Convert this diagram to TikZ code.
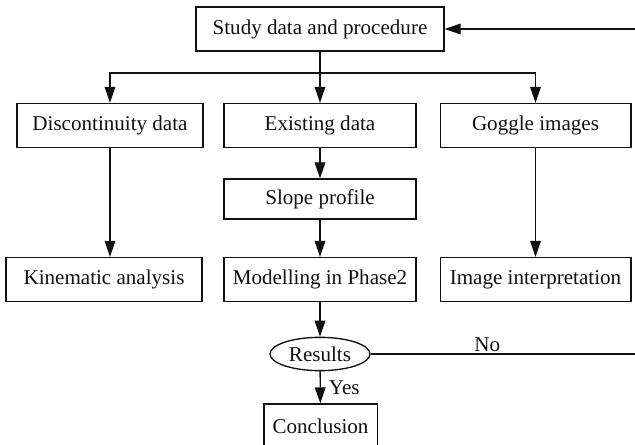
\documentclass[tikz,border=0pt]{standalone}
\usepackage{fontspec}
\setmainfont{Liberation Serif}
\usepackage{tikz}
\usetikzlibrary{arrows.meta,calc,positioning,shapes.geometric}
\definecolor{Ink}{HTML}{111111}
\tikzset{
  fcBox/.style={rectangle,draw=Ink,line width=1pt,fill=white,text=Ink,
    minimum height=33pt,align=center,inner sep=0pt,font=\fontsize{15.8}{18}\selectfont},
  fcDecision/.style={ellipse,draw=Ink,line width=1pt,fill=white,text=Ink,
    minimum width=75pt,minimum height=25pt,inner sep=0pt,font=\fontsize{15.8}{18}\selectfont},
  fcLine/.style={draw=Ink,line width=1pt},
  fcFlow/.style={fcLine,-{Triangle[length=12pt,width=8pt]}},
  fcLabel/.style={font=\fontsize{15.8}{18}\selectfont,text=Ink,inner sep=1pt}
}
\begin{document}
\begin{tikzpicture}[x=0.75pt,y=-0.75pt]
  \useasboundingbox (0,0) rectangle (635,445);
  \node[fcBox,minimum width=186pt,minimum height=33pt] (study) at (320,29) {Study data and procedure};
  \node[fcBox,minimum width=139.5pt] (disc) at (110,125.5) {Discontinuity data};
  \node[fcBox,minimum width=144pt] (exist) at (320,125.5) {Existing data};
  \node[fcBox,minimum width=143pt] (goggle) at (535.5,125.5) {Goggle images};
  \node[fcBox,minimum width=144pt,minimum height=30pt] (slope) at (320,199) {Slope profile};
  \node[fcBox,minimum width=147pt] (kin) at (104,279.5) {Kinematic analysis};
  \node[fcBox,minimum width=144pt] (model) at (320,279.5) {Modelling in Phase2};
  \node[fcBox,minimum width=143pt] (interp) at (535.5,279.5) {Image interpretation};
  \node[fcDecision] (res) at (320,354) {Results};
  \node[fcBox,minimum width=85pt] (concl) at (320.5,426) {Conclusion};
  \coordinate (split) at (320,73);
  \coordinate (back) at (642,354);
  \draw[fcLine] (study) -- (split);
  \draw[fcFlow] (split) -| (disc.north);
  \draw[fcFlow] (split) -- (exist);
  \draw[fcFlow] (split) -| (goggle.north);
  \draw[fcFlow] (exist) -- (slope);
  \draw[fcFlow] (slope) -- (model);
  \draw[fcFlow] (disc.south) -- (disc.south |- kin.north);
  \draw[fcFlow] (goggle.south) -- (goggle.south |- interp.north);
  \draw[fcFlow] (model) -- (res);
  \draw[fcFlow] (res) -- node[fcLabel,right,pos=.5,xshift=5pt] {Yes} (concl);
  \draw[fcFlow] (res) -- node[fcLabel,above,pos=.43] {No} (back) |- (study);
\end{tikzpicture}
\end{document}
